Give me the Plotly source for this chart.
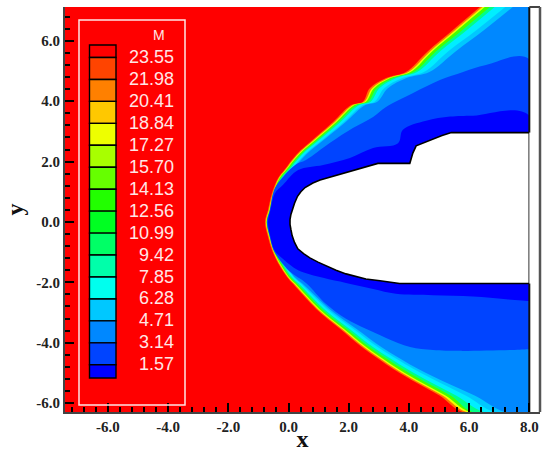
import plotly.graph_objects as go

# ---- data ----
legend_levels = ["23.55","21.98","20.41","18.84","17.27","15.70","14.13","12.56","10.99","9.42","7.85","6.28","4.71","3.14","1.57"]
legend_colors = ["#ff0000","#ff4400","#ff8000","#ffc800","#eeff00","#a8ff00","#66ff00","#22ff00","#00ff22","#00ff66","#00ffaa","#00ffee","#00c8ff","#0088ff","#0044ff","#0000ff"]
tick_vals = [-6,-4,-2,0,2,4,6,8]
tick_text = ["-6.0","-4.0","-2.0","0.0","2.0","4.0","6.0","8.0"]

shock_y = [7.12,6.36,5.65,4.97,4.77,4.43,3.98,3.87,3.31,2.82,2.22,1.72,1.45,.95,.4,0,-.5,-.93,-1.36,-1.82,-2.05,-2.88,-3.54,-4.17,-4.71,-5.26,-5.76,-6.3]
x_m21 = [6.36,5.46,4.62,3.90,3.24,2.70,2.47,2.08,1.48,.92,.25,-.14,-.35,-.55,-.68,-.78,-.68,-.55,-.35,-.05,.15,.92,1.71,2.47,3.24,4.13,5.03,5.80]
x_m18 = [6.44,5.54,4.70,3.98,3.32,2.78,2.52,2.14,1.54,.97,.29,-.11,-.32,-.52,-.65,-.75,-.65,-.52,-.32,-.02,.19,.97,1.77,2.54,3.32,4.22,5.13,5.92]
x_m15 = [6.52,5.62,4.77,4.05,3.38,2.84,2.57,2.19,1.59,1.02,.33,-.08,-.30,-.50,-.63,-.73,-.63,-.50,-.29,.01,.23,1.02,1.83,2.61,3.40,4.31,5.23,6.04]
x_m11 = [6.69,5.78,4.90,4.16,3.48,2.93,2.65,2.27,1.66,1.09,.39,-.03,-.26,-.47,-.60,-.70,-.60,-.47,-.25,.06,.29,1.10,1.92,2.72,3.54,4.47,5.40,6.12]
x_m7 = [6.85,5.93,5.03,4.27,3.58,3.02,2.73,2.35,1.73,1.15,.44,.02,-.22,-.44,-.58,-.68,-.58,-.44,-.21,.11,.35,1.18,2.02,2.84,3.68,4.63,5.58,6.5]
x_m5 = [7.2,6.25,5.3,4.5,3.78,3.18,2.86,2.47,1.84,1.25,.52,.08,-.18,-.41,-.56,-.66,-.56,-.41,-.17,.17,.42,1.28,2.15,3.0,3.88,4.9,5.9,6.85]
x_m4 = [7.45,6.5,5.55,4.68,3.92,3.3,2.95,2.55,1.9,1.3,.57,.12,-.15,-.39,-.54,-.64,-.54,-.39,-.15,.2,.47,1.36,2.25,3.12,4.02,5.1,6.2,7.2]

x_m3 = [8,6.56,5.8,5.03,4.14,3.24,2.81,2.14,1.38,.58,.22,-.35,-.5,-.62,-.72,-.62,-.5,-.3,.05,.58,1.25,1.91,2.57,3.24,4.04,4.8,5.7,7.68,8]
y_m3 = [5.39,5.2,4.97,4.7,4.27,3.81,3.48,3.11,2.62,2.05,1.89,1.29,1.0,.4,0,-.5,-.93,-1.25,-1.65,-2.02,-2.72,-3.21,-3.54,-3.84,-4.14,-4.24,-4.27,-4.23,-4.22]
x_m2 = [8,6.13,5.37,4.57,3.8,3.64,2.81,2.04,1.15,.32,-.18,-.45,-.6,-.68,-.6,-.47,-.18,.32,1.15,1.91,2.81,3.57,4.8,6.13,7.23,8]
y_m2 = [3.52,3.52,3.49,3.35,3.05,2.61,2.45,2.12,1.89,1.72,1.23,.95,.4,0,-.5,-.93,-1.23,-1.6,-1.85,-2.02,-2.22,-2.38,-2.43,-2.47,-2.56,-2.62]

body_x = [8,5.41,5.1,4.8,4.5,4.24,4.13,4.03,2.97,2.55,2.14,1.75,1.38,1.05,.81,.55,.41,.3,.2,.14,.08,.05,.05,.08,.12,.2,.31,.5,.71,.98,1.25,1.58,1.91,2.25,2.57,3.04,3.69,8]
body_y = [2.96,2.96,2.86,2.74,2.63,2.52,2.28,1.94,1.94,1.82,1.69,1.59,1.49,1.39,1.29,1.14,1.0,.85,.62,.45,.25,.08,-.08,-.25,-.45,-.68,-.89,-1.05,-1.19,-1.33,-1.46,-1.6,-1.72,-1.81,-1.89,-1.95,-2.04,-2.04]

X0, X1 = -7.425, 8.355
Y0, Y1 = -6.295, 7.12
XE = 8.0
W, H = 546, 452
ML, MR, MT, MB = 65, 6, 7, 40

fig = go.Figure()

def band(xs, ys, color):
    fig.add_trace(go.Scatter(x=list(xs)+[XE, XE], y=list(ys)+[ys[-1], ys[0]], mode="lines",
                             fill="toself", fillcolor=color, line=dict(width=0, shape="spline", smoothing=1.0),
                             hoverinfo="skip", showlegend=False))

fig.add_trace(go.Scatter(x=[X0, XE, XE, X0], y=[Y1, Y1, Y0, Y0], mode="lines", fill="toself",
                         fillcolor="#ff0000", line=dict(width=0), hoverinfo="skip", showlegend=False))
for xs, col in [(x_m21,"#ff7000"),(x_m18,"#eeff00"),(x_m15,"#44ff00"),(x_m11,"#00ff88"),
                (x_m7,"#00eeff"),(x_m5,"#00c8ff"),(x_m4,"#0088ff")]:
    band(xs, shock_y, col)
band(x_m3, y_m3, "#0044ff")
band(x_m2, y_m2, "#0000ff")

fig.add_trace(go.Scatter(x=body_x+[body_x[0]], y=body_y+[body_y[0]], mode="lines", fill="toself",
                         fillcolor="#ffffff", line=dict(color="#000000", width=1.6), hoverinfo="skip", showlegend=False))
# white strip right of the solution domain
fig.add_trace(go.Scatter(x=[XE, X1, X1, XE], y=[Y1, Y1, Y0, Y0], mode="lines", fill="toself",
                         fillcolor="#ffffff", line=dict(width=0), hoverinfo="skip", showlegend=False))
# black edge of the solution domain at its outflow side
for ya, yb in [(Y1, body_y[0]), (body_y[-1], Y0)]:
    fig.add_trace(go.Scatter(x=[XE, XE], y=[ya, yb], mode="lines", line=dict(color="#111111", width=2),
                             hoverinfo="skip", showlegend=False))

pw = W-ML-MR; ph = H-MT-MB
px = lambda p: (p-ML)/pw
py = lambda p: 1-(p-MT)/ph

shapes = [
    dict(type="rect", xref="paper", yref="paper", x0=px(79), x1=px(185), y0=py(405), y1=py(20),
         line=dict(color="#ffe6e6", width=1.5), fillcolor="rgba(0,0,0,0)"),
    dict(type="line", xref="x", yref="paper", x0=XE, x1=X1, y0=1, y1=1, line=dict(color="#444444", width=2)),
    dict(type="line", xref="paper", yref="paper", x0=px(540), x1=px(540), y0=0, y1=1, line=dict(color="#555555", width=2.5)),
]
step = 21.95
tops = [45, 57.5] + [57.5 + step*(i+1) for i in range(14)] + [378]
for i, c in enumerate(legend_colors):
    shapes.append(dict(type="rect", xref="paper", yref="paper", x0=px(89.5), x1=px(116),
                       y0=py(tops[i+1]), y1=py(tops[i]), fillcolor=c, line=dict(color="#000000", width=1.4)))

annos = [dict(text="M", xref="paper", yref="paper", x=px(151), y=py(35), showarrow=False, yanchor="middle",
              font=dict(family="Liberation Sans", size=14, color="#ffe6e6"))]
for i, t in enumerate(legend_levels):
    annos.append(dict(text=t, xref="paper", yref="paper", x=px(176), y=py(57 + step*i), xanchor="right", yanchor="middle",
                      showarrow=False, font=dict(family="Liberation Sans", size=18, color="#ffe6e6")))

tick_font = dict(family="Liberation Serif", size=15, color="#222222", weight="bold")
axis = dict(showgrid=False, zeroline=False, showline=True, linecolor="#444444", linewidth=2,
            ticks="inside", tickcolor="#000000", tickwidth=2, ticklen=9,
            tickmode="array", tickvals=tick_vals, ticktext=tick_text, tickfont=tick_font,
            minor=dict(ticks="inside", dtick=0.4, tick0=0, ticklen=5, tickwidth=2, tickcolor="#000000", showgrid=False))
fig.update_layout(width=W, height=H, margin=dict(l=ML, r=MR, t=MT, b=MB, autoexpand=False),
                  plot_bgcolor="#ffffff", paper_bgcolor="#ffffff", shapes=shapes, annotations=annos, showlegend=False,
                  xaxis=dict(axis, range=[X0, X1],
                             title=dict(text="x", standoff=3, font=dict(family="Liberation Serif", size=24, color="#111111", weight="bold"))),
                  yaxis=dict(axis, range=[Y0, Y1], tickvals=[-6,-4,-2,0,2,4,6], ticktext=tick_text[:-1],
                             title=dict(text="y", standoff=6, font=dict(family="Liberation Serif", size=24, color="#111111", weight="bold"))))
fig.write_html("out.html", config={"displayModeBar": False},
               post_script="document.body.style.margin='0';document.body.style.overflow='hidden';")
